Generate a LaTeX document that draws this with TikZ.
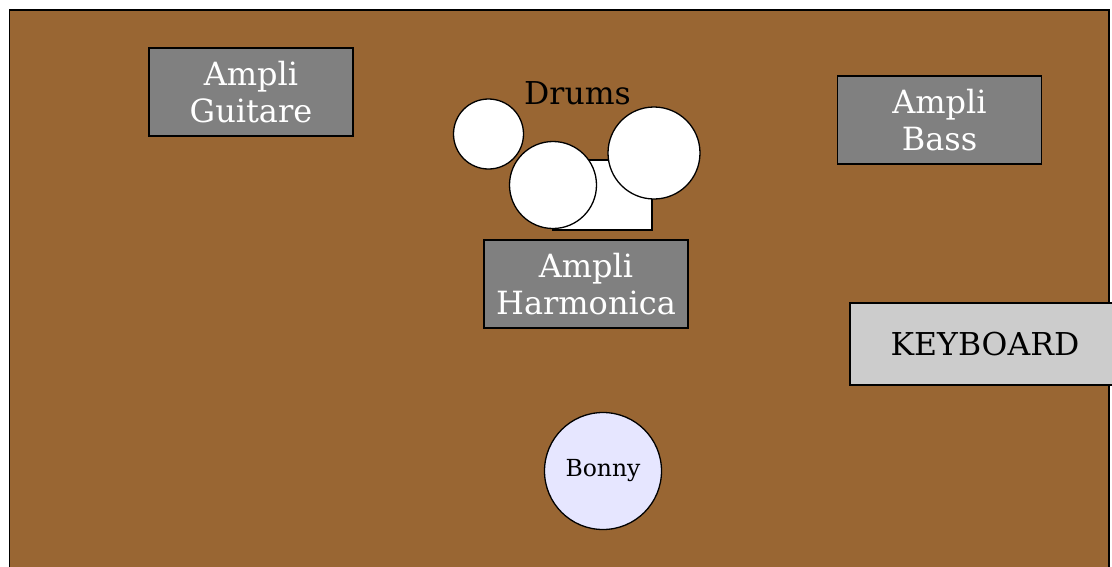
\documentclass[tikz,border=0pt]{standalone}
\usepackage{fontspec}
\setmainfont{DejaVu Serif}
\usetikzlibrary{positioning}
\definecolor{stage}{HTML}{996633}
\definecolor{ampli}{HTML}{808080}
\definecolor{keys}{HTML}{CCCCCC}
\definecolor{singer}{HTML}{E6E6FF}
\tikzset{
  amp/.style={draw=black,fill=ampli,line width=1.3pt,minimum width=204pt,minimum height=88pt,
              text=white,align=center,inner sep=0pt,font=\fontsize{32}{37}\selectfont},
  drum/.style={circle,draw=black,fill=white,line width=1.3pt,inner sep=0pt},
}

\begin{document}
\begin{tikzpicture}[x=1pt,y=-1pt]
    \useasboundingbox (0,0) rectangle (1112,566);
    % Stage
    \draw[fill=stage,line width=1.4pt] (9.5,10) rectangle (1109,620);
    % Amplis
    \node[amp] (guitare) at (251,92) {Ampli\\Guitare};
    \node[amp] (bass) at (939.5,120) {Ampli\\Bass};
    \node[amp] (harmo) at (586,284) {Ampli\\Harmonica};
    % Drum kit
    \node[font=\fontsize{31.5}{35}\selectfont] (drums) at (577.5,93) {Drums};
    \node[draw=black,fill=white,line width=1.3pt,minimum width=99pt,minimum height=70pt,inner sep=0pt]
      (kick) at (602.5,195) {};
    \node[drum,minimum size=70pt] (tom) at (488.5,134) {};
    \node[drum,minimum size=87pt] (snare) at (553,185) {};
    \node[drum,minimum size=92pt] (floor) at (654,153) {};
    % Keyboard
    \node[draw=black,fill=keys,line width=1.3pt,minimum width=270pt,minimum height=82pt,inner sep=0pt,
          font=\fontsize{31.5}{35}\selectfont] (keyboard) at (985,344) {KEYBOARD};
    % Singer
    \node[drum,fill=singer,minimum size=117pt,font=\fontsize{23.5}{26}\selectfont] (bonny) at (603,471) {Bonny};
\end{tikzpicture}
\end{document}
